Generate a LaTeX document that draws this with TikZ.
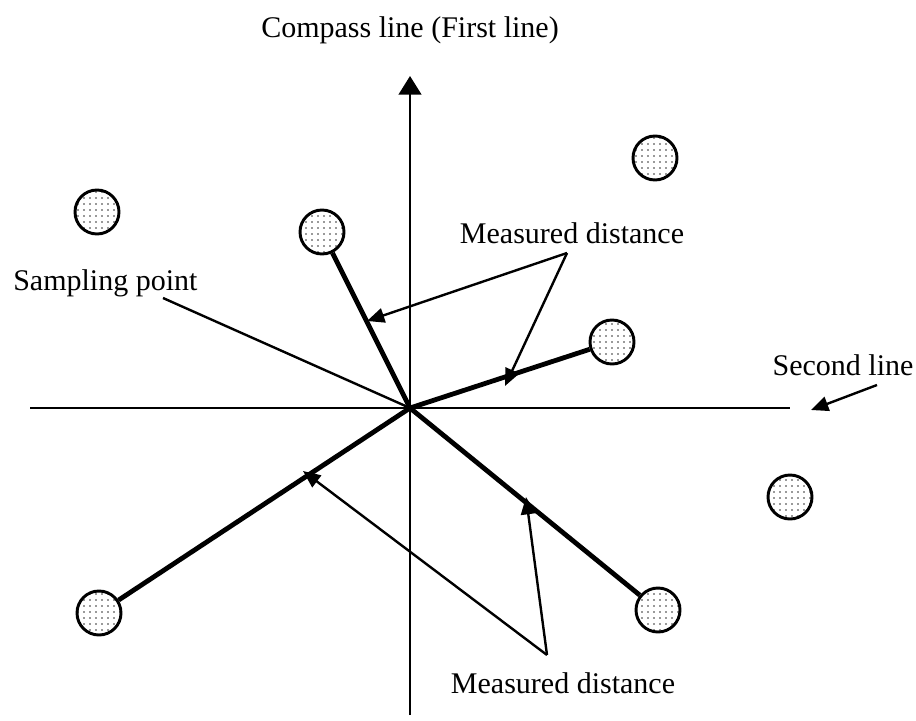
\documentclass[tikz,border=0pt]{standalone}
\usepackage{fontspec}
\setmainfont{Liberation Serif}
\usepackage{tikz}
\usetikzlibrary{arrows.meta,patterns.meta,calc}

\begin{document}
\begin{tikzpicture}[
  x=0.75pt,y=-0.75pt,
  font=\fontsize{22.5}{27}\selectfont,
  tree/.style={circle,draw=black,line width=2.2pt,minimum size=33pt,inner sep=0pt,
               preaction={fill=white},pattern={Dots[distance=4.5pt,radius=0.7pt]},pattern color=black!80},
  axis/.style={black,line width=1.8pt},
  dist/.style={black,line width=3.6pt},
  lbl/.style={inner sep=0pt},
  arr/.style={-{Triangle[length=13pt,width=11pt]},black,line width=1.8pt},
  axarr/.style={-{Triangle[length=14pt,width=17pt]},black,line width=1.8pt}
]
  \useasboundingbox (0,0) rectangle (916,720);

  % axes
  \coordinate (sp) at (410,408);
  \coordinate (vb) at (410,715);
  \coordinate (vt) at (410,76);
  \coordinate (hl) at (30,408);
  \coordinate (hr) at (790,408);
  \draw[axarr](vb)--(vt);
  \draw[axis](hl)--(hr);

  % trees
  \node[tree](t1) at (97,212){};
  \node[tree](t2) at (322,232){};
  \node[tree](t3) at (655,158){};
  \node[tree](t4) at (612,342){};
  \node[tree](t5) at (790,497){};
  \node[tree](t6) at (99,613){};
  \node[tree](t7) at (658,610){};

  \draw[dist](sp)--(t2);
  \draw[dist](sp)--(t4);
  \draw[dist](sp)--(t6);
  \draw[dist](sp)--(t7);

  % labels
  \node[lbl](cl) at (410,30){Compass line (First line)};
  \node[lbl,anchor=west](spl) at (13,283){Sampling point};
  \node[lbl](md1) at (572,233){Measured distance};
  \node[lbl](md2) at (563,683){Measured distance};
  \node[lbl](sl) at (843,365){Second line};

  \coordinate (spa) at (163,298);
  \draw[axis](spa)--(sp);

  \coordinate (j1) at (567,253);
  \coordinate (a1) at (367,321);
  \coordinate (a2) at (505,386);
  \draw[arr](j1)--(a1);
  \draw[arr](j1)--(a2);

  \coordinate (j2) at (547,655);
  \coordinate (b1) at (303,471);
  \coordinate (b2) at (526,497);
  \draw[arr](j2)--(b1);
  \draw[arr](j2)--(b2);

  \coordinate (s1) at (877,385);
  \coordinate (s2) at (811,410);
  \draw[arr](s1)--(s2);
\end{tikzpicture}
\end{document}
